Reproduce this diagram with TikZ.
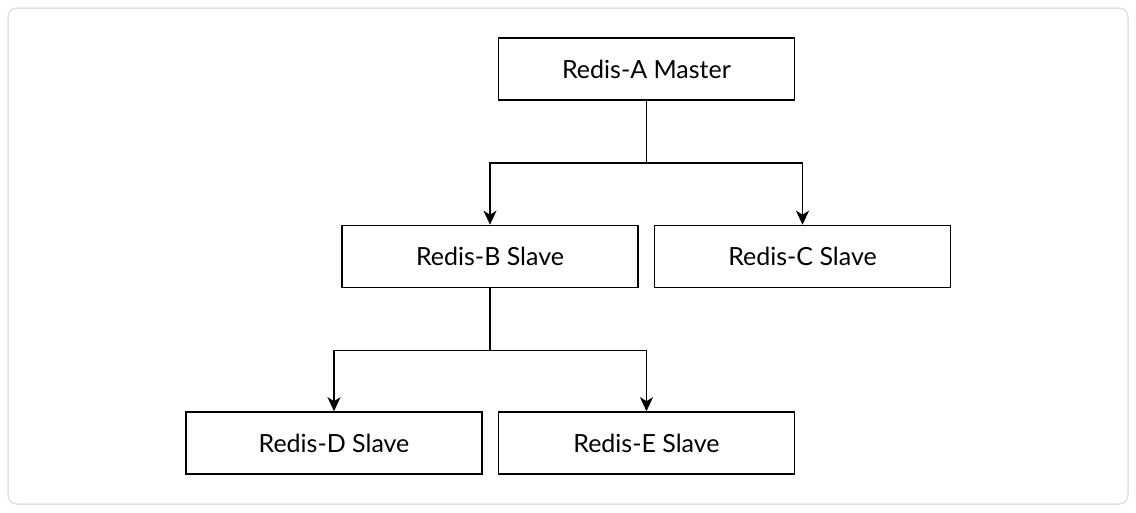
\documentclass[tikz,border=0pt]{standalone}
\usepackage{fontspec}
\setmainfont{Lato}
\usetikzlibrary{arrows.meta}
\begin{document}
\begin{tikzpicture}[x=1pt,y=-1pt,
   nodo/.style={draw,line width=1.6pt,minimum width=296pt,minimum height=62pt,inner sep=0pt,font=\fontsize{25}{30}\selectfont},
   enlace/.style={line width=1.6pt,-{Stealth[length=14pt,width=13pt,inset=4pt]}}]

  \useasboundingbox (0,0) rectangle (1136,512);
  % marco exterior
  \draw[black!12,line width=1.5pt,rounded corners=9pt] (8,8) rectangle (1128,504);

  % --- nodos ---
  \node[nodo] (A) at (646.5,69)  {Redis-A Master};
  \node[nodo] (B) at (490,256.5) {Redis-B Slave};
  \node[nodo] (C) at (802.5,256.5) {Redis-C Slave};
  \node[nodo] (D) at (334,443)   {Redis-D Slave};
  \node[nodo] (E) at (646.5,443) {Redis-E Slave};

  % --- replicacion ---
  \draw[enlace] (A.south) -- ++(0,62) -| (B.north);
  \draw[enlace] (A.south) -- ++(0,62) -| (C.north);
  \draw[enlace] (B.south) -- ++(0,62) -| (D.north);
  \draw[enlace] (B.south) -- ++(0,62) -| (E.north);
\end{tikzpicture}
\end{document}
